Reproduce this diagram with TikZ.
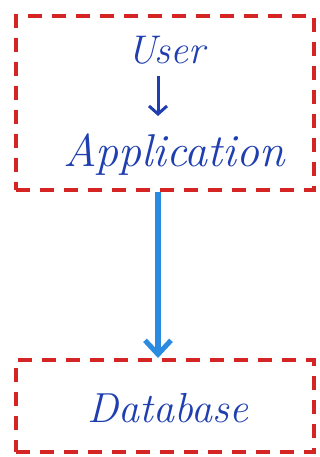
\documentclass[tikz,border=0pt]{standalone}
\usepackage{fontspec}
\usetikzlibrary{arrows.meta}
\definecolor{boxred}{HTML}{D42424}
\definecolor{inkblue}{HTML}{1F3FB0}
\definecolor{arrowblue}{HTML}{2A8BE0}
\begin{document}
\begin{tikzpicture}[x=1pt,y=-1pt,
  dashbox/.style={draw=boxred, line width=4pt, dash pattern=on 14pt off 10pt, rectangle, inner sep=0pt},
  hand/.style={text=inkblue, font=\itshape, inner sep=1pt},
  bigarrow/.style={draw=arrowblue, line width=6pt, -{Straight Barb[length=14pt,width=26pt,line width=5pt]}},
  smallarrow/.style={draw=inkblue, line width=3pt, -{Straight Barb[length=8pt,width=18pt]}}]
\useasboundingbox (0,0) rectangle (320,457);
\node[dashbox, minimum width=298pt, minimum height=174pt] (topbox) at (165,103) {};
\node[dashbox, minimum width=298pt, minimum height=92pt] (dbbox) at (165,406) {};
\node[hand, font=\fontsize{40}{44}\selectfont\itshape] (user) at (166,50) {User};
\node[hand, font=\fontsize{46}{50}\selectfont\itshape] (app) at (174,155) {Application};
\node[hand, font=\fontsize{42}{46}\selectfont\itshape] (db) at (168,408) {Database};
\coordinate (sa1) at (158,76);
\coordinate (sa2) at (158,116);
\draw[smallarrow] (sa1) -- (sa2);
\draw[bigarrow] ([xshift=-7pt]topbox.south) -- ([xshift=-7pt]dbbox.north);
\end{tikzpicture}
\end{document}
